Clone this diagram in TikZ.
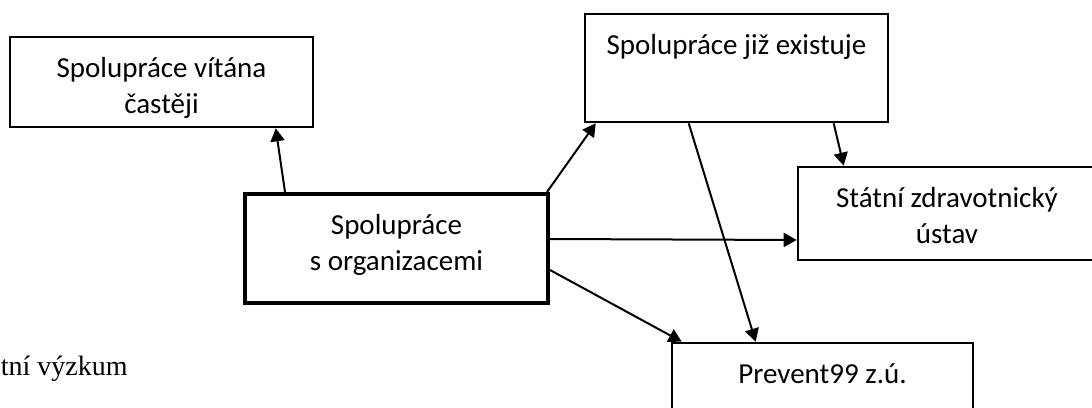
\documentclass[tikz,border=0pt]{standalone}
\usepackage{fontspec}
\setmainfont{Carlito}
\newfontfamily\oldserif{Liberation Serif}
\usetikzlibrary{arrows.meta}
% text of a box: set at the top, lines centred
\newcommand{\boxtext}[3]{\parbox[c][#2][t]{#1}{\centering\rule{0pt}{20pt}#3}}
\tikzset{
org_box/.style={
	% The shape:
	rectangle,
	inner sep=0pt,
	% The border:
	draw=black,
	line width=1.3pt,
	% Font
	font=\fontsize{14.5}{18}\selectfont
},
main_box/.style={org_box, line width=2pt},
link/.style={-{Triangle[length=6.5pt,width=7pt]}, line width=1pt}
}

\begin{document}
\begin{tikzpicture}[x=0.5pt, y=-0.5pt]
			\useasboundingbox (0,0) rectangle (1092,407);
			\clip (0,0) rectangle (1092,407);

			\node[org_box] (welcome) at (161.5,82) {\boxtext{151.5pt}{45pt}{Spolupráce vítána\\ častěji}};
			\node[main_box] (orgs) at (396.5,248.5) {\boxtext{151.5pt}{54.5pt}{Spolupráce\\ s organizacemi}};
			\node[org_box] (exists) at (736.5,68) {\boxtext{151.5pt}{54pt}{Spolupráce již existuje}};
			\node[org_box] (szu) at (947,213.5) {\boxtext{149pt}{46.5pt}{Státní zdravotnický\\ ústav}};
			\node[org_box] (prevent) at (822.5,393) {\boxtext{150.5pt}{50pt}{Prevent99 z.ú.}};

			\node[anchor=base east, inner sep=0pt, font=\oldserif\fontsize{14}{16}\selectfont] (research) at (128,375) {tní výzkum};

			\draw[link] ([xshift=21pt]orgs.north west) -- ([xshift=133.5pt]welcome.south west);
			\draw[link] ([xshift=-1.5pt]orgs.north east) -- ([xshift=6pt]exists.south west);
			\draw[link] ([yshift=4.75pt]orgs.east) -- ([yshift=-13.25pt]szu.west);
			\draw[link] ([yshift=-10.75pt]orgs.east) -- ([xshift=5.5pt]prevent.north west);

			\draw[link] ([xshift=52.5pt]exists.south west) -- ([xshift=42.5pt]prevent.north west);
			\draw[link] ([xshift=125pt]exists.south west) -- ([xshift=23.5pt]szu.north west);
		\end{tikzpicture}
\end{document}
